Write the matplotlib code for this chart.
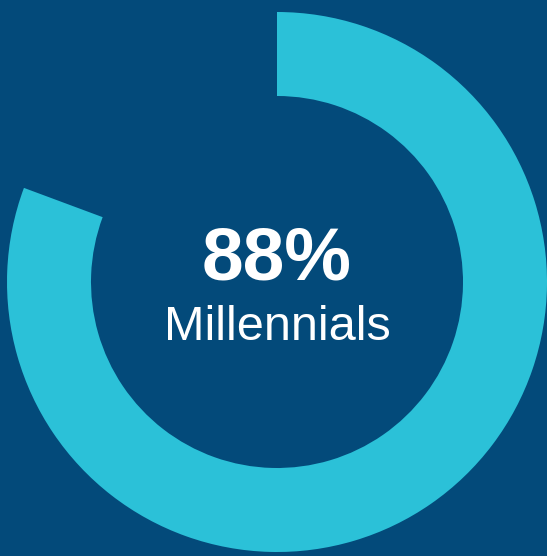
import matplotlib
matplotlib.use("Agg")
import matplotlib.pyplot as plt
from matplotlib.patches import Wedge

# Data
value = 88          # percent
label = "Millennials"
max_sweep = 330     # degrees representing 100%

W, H = 547, 556
bg = "#034a7a"
ring = "#2bc1d8"

fig = plt.figure(figsize=(W / 100, H / 100), dpi=100, facecolor=bg)
ax = fig.add_axes([0, 0, 1, 1])
ax.set_xlim(0, W)
ax.set_ylim(0, H)
ax.set_aspect("equal")
ax.axis("off")
ax.set_facecolor(bg)

cx, cy = 277, H - 282
r_out, r_in = 270, 186
sweep = value / 100 * max_sweep
ax.add_patch(Wedge((cx, cy), r_out, 90 - sweep, 90, width=r_out - r_in,
                   facecolor=ring, edgecolor="none"))

ax.text(cx, H - 280, f"{value}%", ha="center", va="baseline", color="white",
        fontsize=54, fontweight="bold", family="Liberation Sans")
ax.text(cx, H - 340, label, ha="center", va="baseline", color="white",
        fontsize=35, family="Liberation Sans")

fig.savefig("out.png", dpi=100, facecolor=bg)
